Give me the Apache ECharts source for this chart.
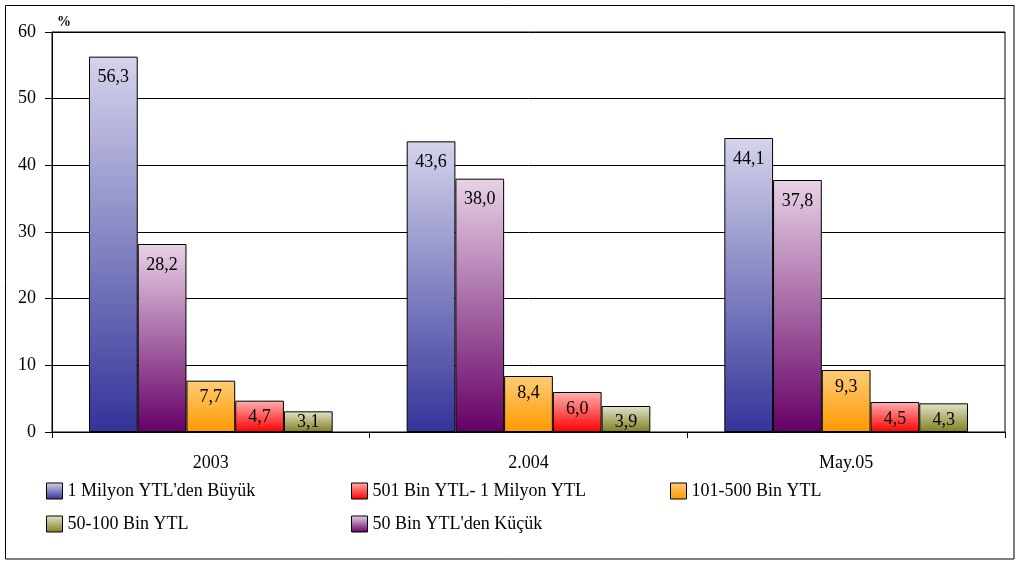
<!DOCTYPE html>
<html>
<head>
<meta charset="utf-8">
<script src="https://cdn.jsdelivr.net/npm/echarts@6/dist/echarts.min.js"></script>
<style>
html,body{margin:0;padding:0;background:#fff;}
#chart{width:1020px;height:564px;}
</style>
</head>
<body>
<div id="chart"></div>
<script>
var categories = ['2003', '2.004', 'May.05'];
var seriesNames = ["1 Milyon YTL'den Büyük", "50 Bin YTL'den Küçük", "101-500 Bin YTL", "501 Bin YTL- 1 Milyon YTL", "50-100 Bin YTL"];
var big1M = [56.3, 43.6, 44.1];
var small50 = [28.2, 38.0, 37.8];
var mid101 = [7.7, 8.4, 9.3];
var mid501 = [4.7, 6.0, 4.5];
var mid50 = [3.1, 3.9, 4.3];
var yTicks = [0, 10, 20, 30, 40, 50, 60];

var FONT = 'Liberation Serif';
var FS = 18;
function grad(top, bottom) {
  return new echarts.graphic.LinearGradient(0, 0, 0, 1, [
    {offset: 0, color: top}, {offset: 1, color: bottom}
  ]);
}
var colors = [
  grad('#d4d4ec', '#333399'),
  grad('#e8d2e6', '#660066'),
  grad('#ffcc77', '#ff9900'),
  grad('#ffb0b0', '#ff0000'),
  grad('#e4e4cc', '#808020')
];
var values = [big1M, small50, mid101, mid501, mid50];
var PX_PER_UNIT = 400 / 60;

var series = seriesNames.map(function (n, i) {
  return {
    name: n,
    type: 'bar',
    data: values[i].map(function (v) {
      var h = v * PX_PER_UNIT;
      var d = h > 100 ? 12 : Math.min(8, Math.max(1.5, h - 19));
      return {value: v, label: {distance: d}};
    }),
    barGap: '0%',
    barCategoryGap: '23.3%',
    itemStyle: {color: colors[i], borderColor: '#000', borderWidth: 1},
    label: {
      show: true,
      position: 'insideTop',
      distance: 10,
      fontFamily: FONT,
      fontSize: FS,
      color: '#000',
      formatter: function (p) { return p.value.toFixed(1).replace('.', ','); }
    },
    emphasis: {disabled: true}
  };
});

// legend layout: [seriesIndex, left, top]
var legendPos = [
  [0, 46, 482],
  [3, 351, 482],
  [2, 670, 482],
  [4, 46, 515],
  [1, 351, 515]
];
var legends = legendPos.map(function (lp) {
  return {
    data: [seriesNames[lp[0]]],
    left: lp[1],
    top: lp[2],
    padding: 0,
    itemWidth: 16,
    itemHeight: 16,
    itemGap: 0,
    icon: 'rect',
    selectedMode: false,
    itemStyle: {borderColor: '#000', borderWidth: 1},
    textStyle: {fontFamily: FONT, fontSize: FS, color: '#000', padding: [2, 0, 0, 0]}
  };
});

var chart = echarts.init(document.getElementById('chart'), null, {renderer: 'canvas'});
chart.setOption({
  animation: false,
  backgroundColor: '#fff',
  grid: {left: 52, right: 15, top: 32, bottom: 132, show: true, borderColor: '#000', borderWidth: 1, backgroundColor: 'transparent'},
  legend: legends,
  xAxis: {
    type: 'category',
    data: categories,
    axisLine: {lineStyle: {color: '#000', width: 1}},
    axisTick: {show: true, length: 6, interval: 0, lineStyle: {color: '#000'}},
    axisLabel: {fontFamily: FONT, fontSize: FS, color: '#000', margin: 22, interval: 0}
  },
  yAxis: {
    type: 'value',
    min: yTicks[0],
    max: yTicks[yTicks.length - 1],
    interval: 10,
    axisLine: {show: true, lineStyle: {color: '#000', width: 1}},
    axisTick: {show: true, length: 7, lineStyle: {color: '#000'}},
    axisLabel: {fontFamily: FONT, fontSize: FS, color: '#000', margin: 16},
    splitLine: {show: true, lineStyle: {color: '#000', width: 1}}
  },
  graphic: [
    {type: 'rect', shape: {x: 5.5, y: 5.5, width: 1008.5, height: 553.5}, style: {fill: 'none', stroke: '#000', lineWidth: 1}, z: 100},
    {type: 'text', left: 57, top: 15, style: {text: '%', fontFamily: FONT, fontSize: 14, fontWeight: 'bold', fill: '#000'}}
  ],
  series: series
});
</script>
</body>
</html>
